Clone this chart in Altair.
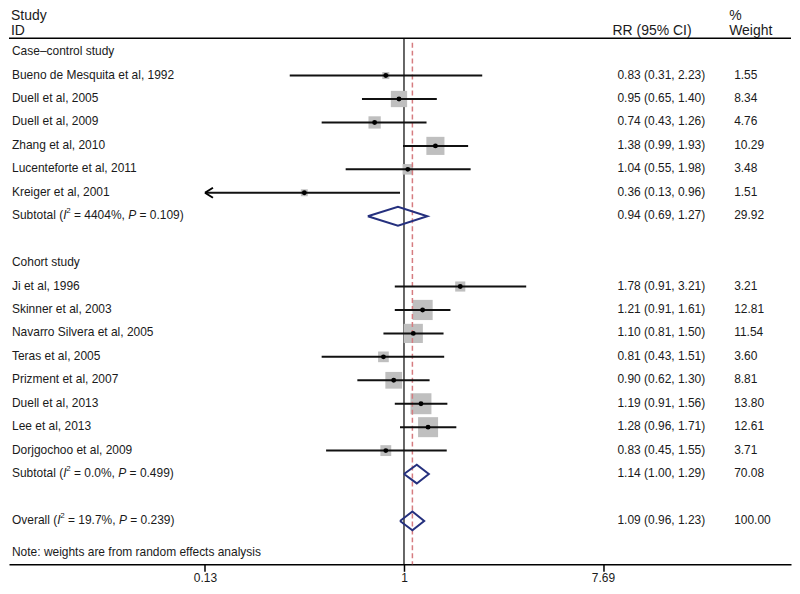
import math
import altair as alt
import pandas as pd

FONT = "Liberation Sans, Arial, Helvetica, sans-serif"
TXT = "#1a1a1a"
NAVY = "#25307e"
GREY = "#bfbfbf"
RED = "#d67c80"

# ---------------- data ----------------
labels = [
    "Case\u2013control study",
    "Bueno de Mesquita et al, 1992",
    "Duell et al, 2005",
    "Duell et al, 2009",
    "Zhang et al, 2010",
    "Lucenteforte et al, 2011",
    "Kreiger et al, 2001",
    "Subtotal",
    "",
    "Cohort study",
    "Ji et al, 1996",
    "Skinner et al, 2003",
    "Navarro Silvera et al, 2005",
    "Teras et al, 2005",
    "Prizment et al, 2007",
    "Duell et al, 2013",
    "Lee et al, 2013",
    "Dorjgochoo et al, 2009",
    "Subtotal",
    "",
    "Overall",
]
kinds = ["group", "study", "study", "study", "study", "study", "study", "subtotal",
         "blank", "group", "study", "study", "study", "study", "study", "study",
         "study", "study", "subtotal", "blank", "overall"]
est = [None, 0.83, 0.95, 0.74, 1.38, 1.04, 0.36, 0.94, None, None,
       1.78, 1.21, 1.10, 0.81, 0.90, 1.19, 1.28, 0.83, 1.14, None, 1.09]
lo = [None, 0.31, 0.65, 0.43, 0.99, 0.55, 0.13, 0.69, None, None,
      0.91, 0.91, 0.81, 0.43, 0.62, 0.91, 0.96, 0.45, 1.00, None, 0.96]
hi = [None, 2.23, 1.40, 1.26, 1.93, 1.98, 0.96, 1.27, None, None,
      3.50, 1.61, 1.50, 1.51, 1.30, 1.56, 1.71, 1.55, 1.29, None, 1.23]
rr_text = ["", "0.83 (0.31, 2.23)", "0.95 (0.65, 1.40)", "0.74 (0.43, 1.26)",
           "1.38 (0.99, 1.93)", "1.04 (0.55, 1.98)", "0.36 (0.13, 0.96)",
           "0.94 (0.69, 1.27)", "", "", "1.78 (0.91, 3.21)", "1.21 (0.91, 1.61)",
           "1.10 (0.81, 1.50)", "0.81 (0.43, 1.51)", "0.90 (0.62, 1.30)",
           "1.19 (0.91, 1.56)", "1.28 (0.96, 1.71)", "0.83 (0.45, 1.55)",
           "1.14 (1.00, 1.29)", "", "1.09 (0.96, 1.23)"]
weights = [None, 1.55, 8.34, 4.76, 10.29, 3.48, 1.51, 29.92, None, None,
           3.21, 12.81, 11.54, 3.60, 8.81, 13.80, 12.61, 3.71, 70.08, None, 100.00]
# heterogeneity statistics of the summary rows (rows 7, 18, 20)
het_i2 = ["4404%", "0.0%", "19.7%"]
het_p = ["0.109", "0.499", "0.239"]
tick_values = [0.13, 1, 7.69]
note = "Note: weights are from random effects analysis"

# ---------------- layout ----------------
W, H = 784, 557
ROW_PX = 23.5
ROW0 = 43.5
r_top = -ROW0 / ROW_PX
r_bot = (H - ROW0) / ROW_PX
PX_LN = 97.8
X_ONE = 396
x_min = math.exp(-X_ONE / PX_LN)
x_max = math.exp((W - X_ONE) / PX_LN)

# Arial / Liberation Sans advance widths (per 1000 em) for composing rich labels
CW = {" ": 278, "(": 333, ")": 333, "%": 889, ",": 278, ".": 278, "=": 584,
      "I": 278, "P": 667, "S": 667, "O": 778, "u": 556, "b": 556, "t": 278,
      "o": 556, "a": 556, "l": 222, "v": 500, "e": 556, "r": 333}


def tw(s, size=12):
    return sum(CW.get(c, 556) for c in s) * size / 1000.0


df = pd.DataFrame({
    "label": labels, "kind": kinds, "est": est, "lo": lo, "hi": hi,
    "rr_text": rr_text, "weight": weights,
})
df["row"] = range(len(df))
df["w_text"] = ["%.2f" % w if pd.notna(w) else "" for w in df["weight"]]

studies = df[df.kind == "study"].copy()
summaries = df[df.kind.isin(["subtotal", "overall"])].copy()
plain = df[df.kind.isin(["group", "study"])].copy()
texts = df[df.kind != "blank"].copy()
arrows = studies[studies.lo <= min(tick_values)].copy()

dia_rows = []
for _, r in summaries.iterrows():
    pts = [(r.lo, 0.0), (r.est, -0.4), (r.hi, 0.0), (r.est, 0.4), (r.lo, 0.0)]
    for i, (xv, dy) in enumerate(pts):
        dia_rows.append({"label": r.label + str(r.row), "v": i, "x": xv, "yy": r.row + dy})
diamonds = pd.DataFrame(dia_rows)

xscale = alt.Scale(type="log", domain=[x_min, x_max], nice=False)
yscale = alt.Scale(domain=[r_top, r_bot], reverse=True, nice=False, zero=False)
xaxis = alt.Axis(values=tick_values, format="~g", title=None, grid=False,
                 tickSize=7, labelPadding=1, domainWidth=1.5, tickWidth=1.5,
                 domainColor="black", tickColor="black", labelFontSize=12,
                 labelFont=FONT, labelColor=TXT)


def X(f):
    return alt.X(f, type="quantitative", scale=xscale, axis=xaxis)


def Y(f):
    return alt.Y(f, type="quantitative", scale=yscale, axis=None)


def YD(v):
    return alt.YDatum(v, scale=yscale, axis=None)


one = pd.DataFrame({"k": [0]})

r_line = (29.5 - ROW0) / ROW_PX
r_red = (34 - ROW0) / ROW_PX
r_note = (546 - ROW0) / ROW_PX
overall_est = summaries[summaries.kind == "overall"].est.iloc[0]

top_rule = alt.Chart(one).mark_rule(color="black", strokeWidth=1.5).encode(
    x=alt.value(0), x2=alt.value(W), y=YD(r_line))

null_line = alt.Chart(one).mark_rule(color="black", strokeWidth=1.2).encode(
    x=alt.XDatum(1, scale=xscale, axis=xaxis), y=YD(r_line), y2=alt.Y2Datum(r_bot))

boxes = alt.Chart(studies).mark_square(color=GREY, opacity=1).encode(
    x=X("est"), y=Y("row"),
    size=alt.Size("weight:Q", legend=None,
                  scale=alt.Scale(type="linear", domain=[0, studies.weight.max()], range=[0, 441])))

red_line = alt.Chart(one).mark_rule(color=RED, strokeWidth=1.5, strokeDash=[5, 3]).encode(
    x=alt.XDatum(overall_est, scale=xscale, axis=xaxis), y=YD(r_red), y2=alt.Y2Datum(r_bot))

ci = alt.Chart(studies).mark_rule(color="#111111", strokeWidth=2).encode(
    x=X("lo"), x2="hi", y=Y("row"))

dots = alt.Chart(studies).mark_circle(color="black", size=24, opacity=1).encode(
    x=X("est"), y=Y("row"))

arrow = alt.Chart(arrows).mark_point(shape="M0,0L1.6,-1M0,0L1.6,1", filled=False,
                                     strokeWidth=2, size=100, color="black",
                                     opacity=1).encode(x=X("lo"), y=Y("row"))

dia = alt.Chart(diamonds).mark_line(color=NAVY, strokeWidth=2).encode(
    x=X("x"), y=Y("yy"), order="v:Q", detail="label:N")

txt_kw = dict(baseline="middle", font=FONT, fontSize=12, color=TXT, dy=-1)
lab = alt.Chart(plain).mark_text(align="left", **txt_kw).encode(
    x=alt.value(3), y=Y("row"), text="label:N")
rr = alt.Chart(texts).mark_text(align="left", **txt_kw).encode(
    x=alt.value(610), y=Y("row"), text="rr_text:N")
wt = alt.Chart(texts).mark_text(align="left", **txt_kw).encode(
    x=alt.value(727), y=Y("row"), text="w_text:N")
note_t = alt.Chart(one).mark_text(align="left", **txt_kw).encode(
    x=alt.value(3), y=YD(r_note), text=alt.value(note))

# summary labels with italic I, superscript 2 and italic P
rich = []
for (_, r), i2, p in zip(summaries.iterrows(), het_i2, het_p):
    segs = [(r.label + " (", "normal", 12, 0),
            ("I", "italic", 12, 0),
            ("2", "normal", 8, -4),
            (" = " + i2 + ", ", "normal", 12, 0),
            ("P", "italic", 12, 0),
            (" = " + p + ")", "normal", 12, 0)]
    x0 = 3.0
    for s, style, size, dy in segs:
        if s == "2":
            x0 -= 0.3
        lead = len(s) - len(s.lstrip(" "))
        xs = x0 + tw(" " * lead, size)
        rich.append(alt.Chart(one).mark_text(
            align="left", baseline="middle", font=FONT, fontSize=size, fontStyle=style,
            color=TXT, dy=-1 + dy).encode(x=alt.value(xs), y=YD(r.row), text=alt.value(s.strip(" "))))
        x0 += tw(s, size)

hdr_kw = dict(baseline="middle", font=FONT, fontSize=14, color=TXT, align="left")
headers = [
    alt.Chart(one).mark_text(**hdr_kw).encode(x=alt.value(2), y=alt.value(7.5), text=alt.value("Study")),
    alt.Chart(one).mark_text(**hdr_kw).encode(x=alt.value(2), y=alt.value(22), text=alt.value("ID")),
    alt.Chart(one).mark_text(**hdr_kw).encode(x=alt.value(605), y=alt.value(22), text=alt.value("RR (95% CI)")),
    alt.Chart(one).mark_text(**hdr_kw).encode(x=alt.value(722), y=alt.value(7.5), text=alt.value("%")),
    alt.Chart(one).mark_text(**hdr_kw).encode(x=alt.value(722), y=alt.value(22), text=alt.value("Weight")),
]

chart = alt.layer(
    top_rule, null_line, boxes, red_line, ci, dots, arrow, dia,
    lab, rr, wt, note_t, *rich, *headers,
).properties(width=W, height=H, padding=0, background="white").configure_view(stroke=None)

chart.save("out.html", embed_options={"renderer": "svg", "actions": False})
